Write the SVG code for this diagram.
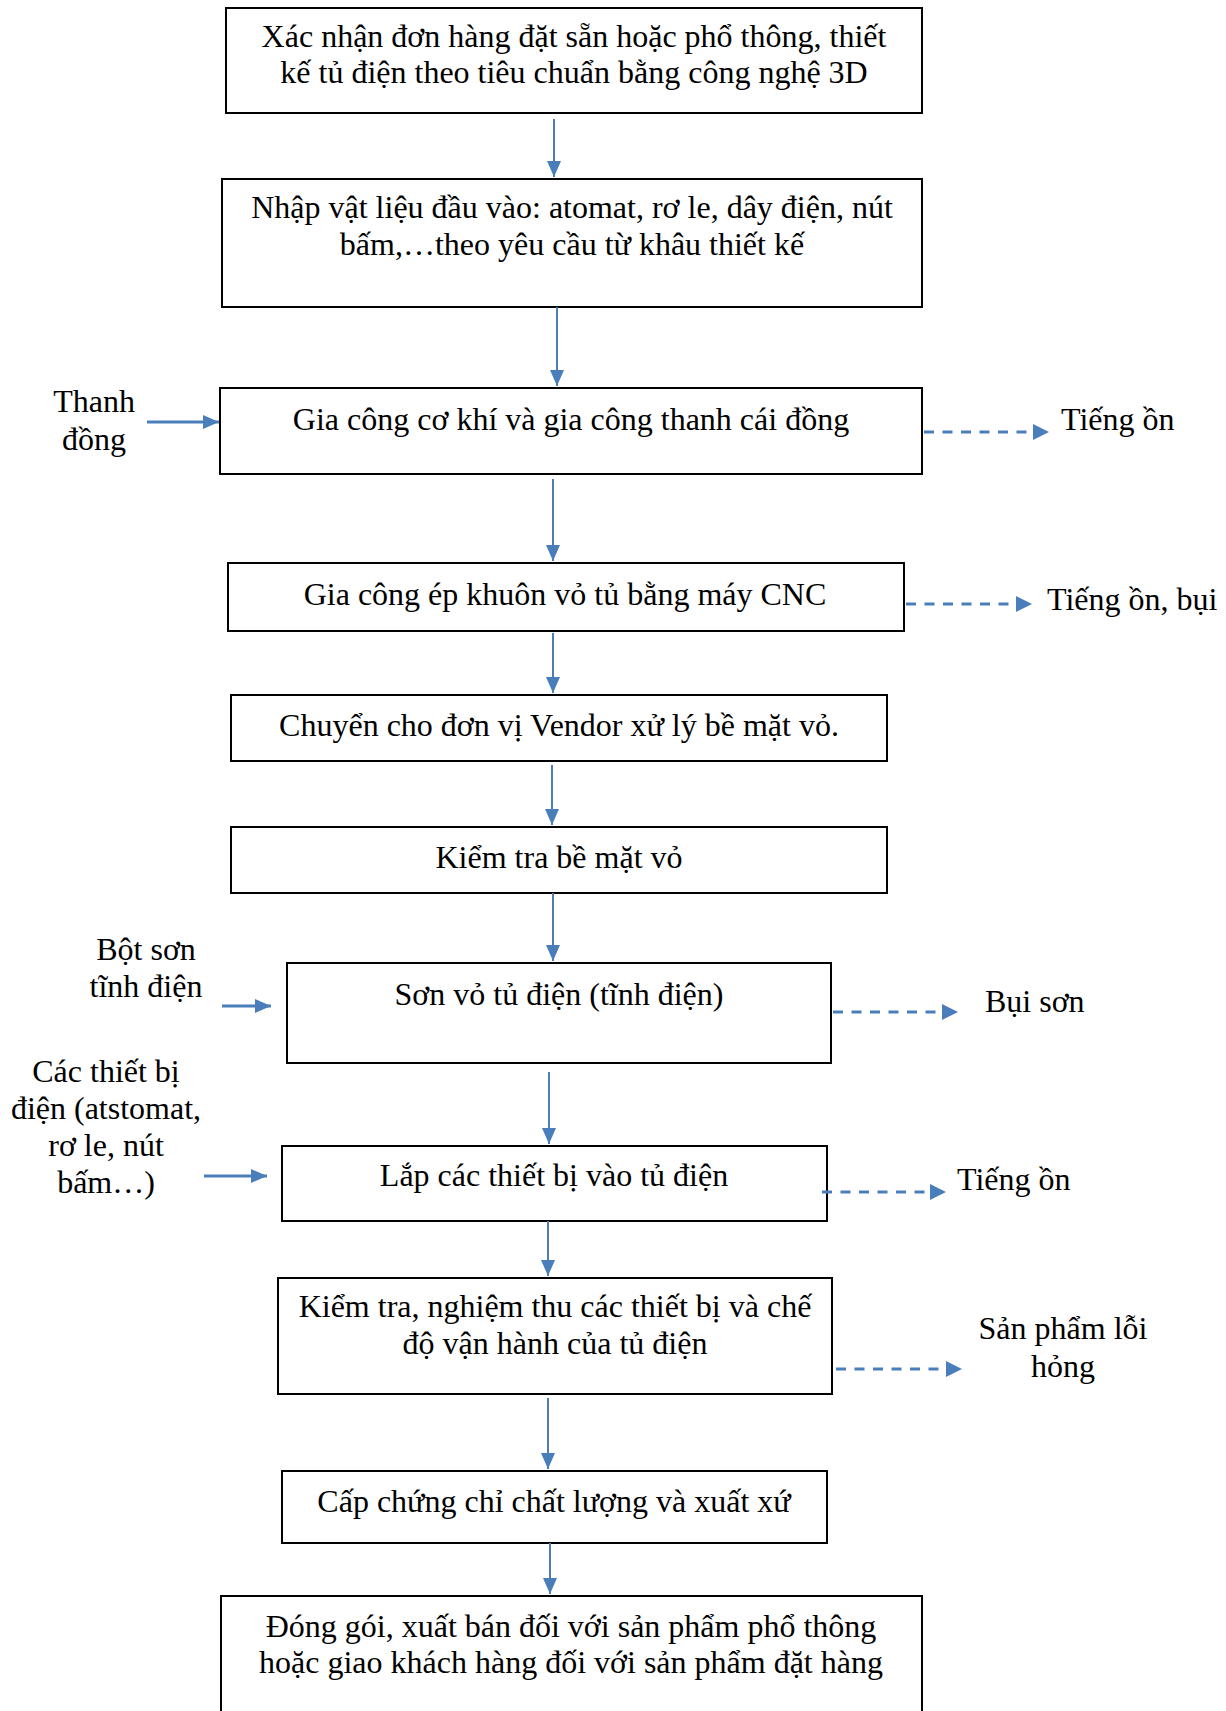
<svg xmlns="http://www.w3.org/2000/svg" width="1226" height="1711" viewBox="0 0 1226 1711">
<style>
.box{fill:#fff;stroke:#000;stroke-width:2}
text{font-family:"Liberation Serif","Times New Roman",serif;font-size:32px;fill:#000}
.c{text-anchor:middle}
.sl{stroke:#4a7ebb;stroke-width:2;fill:none}
.hl{stroke:#4a7ebb;stroke-width:3;fill:none}
.dl{stroke:#4a7ebb;stroke-width:3;fill:none;stroke-dasharray:10 8.5}
</style>
<defs>
<marker id="ah" markerUnits="userSpaceOnUse" markerWidth="16" markerHeight="14" refX="16" refY="7" orient="auto"><path d="M0,0 L16,7 L0,14 z" fill="#4a7ebb"/></marker>
<marker id="dh" markerUnits="userSpaceOnUse" markerWidth="16" markerHeight="16" refX="16" refY="8" orient="auto"><path d="M0,0 L16,8 L0,16 z" fill="#4a7ebb"/></marker>
</defs>
<rect width="1226" height="1711" fill="#fff"/>
<g id="n1"><rect class="box" x="226" y="8" width="696" height="105"/><text class="c" x="574" y="47">Xác nhận đơn hàng đặt sẵn hoặc phổ thông, thiết</text><text class="c" x="574" y="83">kế tủ điện theo tiêu chuẩn bằng công nghệ 3D</text></g>
<g id="n2"><rect class="box" x="222" y="179" width="700" height="128"/><text class="c" x="572" y="218">Nhập vật liệu đầu vào: atomat, rơ le, dây điện, nút</text><text class="c" x="572" y="255">bấm,…theo yêu cầu từ khâu thiết kế</text></g>
<g id="n3"><rect class="box" x="220" y="388" width="702" height="86"/><text class="c" x="571" y="430">Gia công cơ khí và gia công thanh cái đồng</text></g>
<g id="n4"><rect class="box" x="228" y="563" width="676" height="68"/><text class="c" x="565" y="605">Gia công ép khuôn vỏ tủ bằng máy CNC</text></g>
<g id="n5"><rect class="box" x="231" y="695" width="656" height="66"/><text class="c" x="559" y="736">Chuyển cho đơn vị Vendor xử lý bề mặt vỏ.</text></g>
<g id="n6"><rect class="box" x="231" y="827" width="656" height="66"/><text class="c" x="559" y="868">Kiểm tra bề mặt vỏ</text></g>
<g id="n7"><rect class="box" x="287" y="963" width="544" height="100"/><text class="c" x="559" y="1005">Sơn vỏ tủ điện (tĩnh điện)</text></g>
<g id="n8"><rect class="box" x="282" y="1146" width="545" height="75"/><text class="c" x="554" y="1186">Lắp các thiết bị vào tủ điện</text></g>
<g id="n9"><rect class="box" x="278" y="1278" width="554" height="116"/><text class="c" x="555" y="1317">Kiểm tra, nghiệm thu các thiết bị và chế</text><text class="c" x="555" y="1354">độ vận hành của tủ điện</text></g>
<g id="n10"><rect class="box" x="282" y="1471" width="545" height="72"/><text class="c" x="554" y="1512">Cấp chứng chỉ chất lượng và xuất xứ</text></g>
<g id="n11"><rect class="box" x="221" y="1596" width="701" height="130"/><text class="c" x="571" y="1637">Đóng gói, xuất bán đối với sản phẩm phổ thông</text><text class="c" x="571" y="1673">hoặc giao khách hàng đối với sản phẩm đặt hàng</text></g>
<g id="in1"><text class="c" x="94" y="412">Thanh</text><text class="c" x="94" y="450">đồng</text></g>
<g id="in2"><text class="c" x="146" y="960">Bột sơn</text><text class="c" x="146" y="997">tĩnh điện</text></g>
<g id="in3"><text class="c" x="106" y="1082">Các thiết bị</text><text class="c" x="106" y="1119">điện (atstomat,</text><text class="c" x="106" y="1156">rơ le, nút</text><text class="c" x="106" y="1193">bấm…)</text></g>
<g id="out1"><text x="1061" y="430">Tiếng ồn</text></g>
<g id="out2"><text x="1047" y="610">Tiếng ồn, bụi</text></g>
<g id="out3"><text x="985" y="1012">Bụi sơn</text></g>
<g id="out4"><text x="957" y="1190">Tiếng ồn</text></g>
<g id="out5"><text class="c" x="1063" y="1339">Sản phẩm lỗi</text><text class="c" x="1063" y="1377">hỏng</text></g>
<g id="connectors">
<line class="sl" x1="554" y1="119" x2="554" y2="177" marker-end="url(#ah)"/>
<line class="sl" x1="557" y1="307" x2="557" y2="386" marker-end="url(#ah)"/>
<line class="sl" x1="553" y1="479" x2="553" y2="561" marker-end="url(#ah)"/>
<line class="sl" x1="553" y1="633" x2="553" y2="693" marker-end="url(#ah)"/>
<line class="sl" x1="552" y1="765" x2="552" y2="825" marker-end="url(#ah)"/>
<line class="sl" x1="553" y1="893" x2="553" y2="961" marker-end="url(#ah)"/>
<line class="sl" x1="549" y1="1072" x2="549" y2="1144" marker-end="url(#ah)"/>
<line class="sl" x1="548" y1="1221" x2="548" y2="1276" marker-end="url(#ah)"/>
<line class="sl" x1="548" y1="1398" x2="548" y2="1469" marker-end="url(#ah)"/>
<line class="sl" x1="550" y1="1543" x2="550" y2="1594" marker-end="url(#ah)"/>
<line class="hl" x1="147" y1="422" x2="219" y2="422" marker-end="url(#ah)"/>
<line class="hl" x1="222" y1="1006" x2="271" y2="1006" marker-end="url(#ah)"/>
<line class="hl" x1="204" y1="1176" x2="267" y2="1176" marker-end="url(#ah)"/>
<line class="dl" x1="924" y1="432" x2="1049" y2="432" marker-end="url(#dh)"/>
<line class="dl" x1="906" y1="604" x2="1032" y2="604" marker-end="url(#dh)"/>
<line class="dl" x1="833" y1="1012" x2="958" y2="1012" marker-end="url(#dh)"/>
<line class="dl" x1="822" y1="1192" x2="946" y2="1192" marker-end="url(#dh)"/>
<line class="dl" x1="836" y1="1369" x2="962" y2="1369" marker-end="url(#dh)"/>
</g>
</svg>
